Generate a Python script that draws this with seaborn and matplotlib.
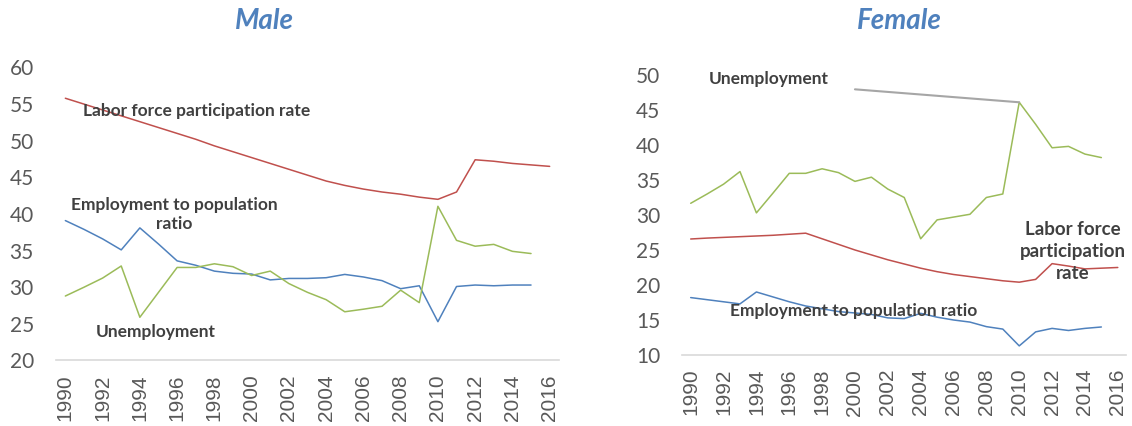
import numpy as np
import pandas as pd
import matplotlib
matplotlib.use('Agg')
import matplotlib.pyplot as plt
import seaborn as sns

# Data
years = list(range(1990, 2017))

male_lfpr = [55.8, 55.0, 54.2, 53.4, 52.6, 51.8, 51.0, 50.2, 49.3, 48.5, 47.7, 46.9, 46.1,
             45.3, 44.5, 43.9, 43.4, 43.0, 42.7, 42.3, 42.0, 43.0, 47.4, 47.2, 46.9, 46.7, 46.5]
male_emp = [39.1, 37.9, 36.6, 35.1, 38.1, 35.9, 33.6, 33.0, 32.2, 31.9, 31.8, 31.0, 31.2,
            31.2, 31.3, 31.75, 31.4, 30.9, 29.8, 30.2, 25.3, 30.1, 30.3, 30.2, 30.3, 30.3, np.nan]
male_unemp = [28.8, 30.0, 31.25, 32.9, 25.9, 29.3, 32.7, 32.7, 33.2, 32.8, 31.6, 32.2, 30.5,
              29.3, 28.3, 26.65, 27.0, 27.4, 29.6, 27.9, 41.05, 36.4, 35.6, 35.85, 34.9, 34.6, np.nan]

female_lfpr = [26.57, 26.7, 26.8, 26.9, 27.0, 27.1, 27.25, 27.4, 26.6, 25.8, 25.0, 24.3, 23.6,
               23.0, 22.4, 21.9, 21.5, 21.2, 20.9, 20.6, 20.4, 20.8, 23.05, 22.7, 22.3, 22.4, 22.5]
female_emp = [18.2, 17.9, 17.6, 17.3, 19.0, 18.3, 17.6, 17.0, 16.6, 16.2, 16.0, 15.8, 15.3,
              15.2, 15.95, 15.4, 15.0, 14.7, 14.05, 13.7, 11.3, 13.3, 13.8, 13.5, 13.8, 14.0, np.nan]
female_unemp = [31.67, 33.0, 34.4, 36.2, 30.3, 33.1, 35.95, 35.95, 36.6, 36.05, 34.8, 35.4, 33.7,
                32.5, 26.6, 29.3, 29.7, 30.1, 32.5, 33.0, 46.1, 42.95, 39.6, 39.8, 38.7, 38.2, np.nan]

series_names = ['Labor force participation rate', 'Employment to population ratio', 'Unemployment']
colors = {'Labor force participation rate': '#C0504D',
          'Employment to population ratio': '#4F81BD',
          'Unemployment': '#9BBB59'}


def to_long(lfpr, emp, unemp):
    df = pd.DataFrame({'Year': years, series_names[0]: lfpr,
                       series_names[1]: emp, series_names[2]: unemp})
    return df.melt(id_vars='Year', var_name='Series', value_name='Value').dropna()


sns.set_style('white')
plt.rcParams['font.family'] = ['Lato', 'DejaVu Sans']

fig = plt.figure(figsize=(11.32, 4.26), dpi=100)
ax1 = fig.add_axes([0.0495, 0.1538, 0.4443, 0.6878])
ax2 = fig.add_axes([0.6029, 0.1667, 0.3918, 0.6573])

label_kw = dict(fontsize=12.5, fontweight='bold', color='#404040', clip_on=False)
tick_color = '#595959'

for ax, df, ylim in [(ax1, to_long(male_lfpr, male_emp, male_unemp), (20, 60)),
                     (ax2, to_long(female_lfpr, female_emp, female_unemp), (10, 50))]:
    sns.lineplot(data=df, x='Year', y='Value', hue='Series', palette=colors,
                 linewidth=1.1, legend=False, ax=ax)
    ax.set_xlim(1989.5, 2016.5)
    ax.set_ylim(*ylim)
    ax.set_yticks(range(ylim[0], ylim[1] + 1, 5))
    ax.set_xticks(years[::2])
    ax.set_xticklabels([str(y) for y in years[::2]], rotation=90,
                       fontfamily='Liberation Sans', fontsize=15, color=tick_color)
    ax.tick_params(axis='y', labelsize=15, labelcolor=tick_color, length=0, pad=16)
    ax.tick_params(axis='x', length=0, pad=10)
    for side in ['left', 'right', 'top']:
        ax.spines[side].set_visible(False)
    ax.spines['bottom'].set_color('#D9D9D9')
    ax.spines['bottom'].set_linewidth(1.2)
    ax.set_xlabel('')
    ax.set_ylabel('')
    ax.grid(False)

# Male labels
ax1.text(1990.95, 54.0, 'Labor force participation rate', ha='left', va='center', **label_kw)
ax1.text(1995.83, 39.95, 'Employment to population\nratio', ha='center', va='center',
         linespacing=1.2, **label_kw)
ax1.text(1994.84, 23.95, 'Unemployment', ha='center', va='center', **label_kw)

# Female labels
ax2.text(1994.78, 49.4, 'Unemployment', ha='center', va='center', **label_kw)
ax2.annotate('', xy=(2010, female_unemp[20]), xytext=(2000, 47.95),
             arrowprops=dict(arrowstyle='-', color='#A6A6A6', lw=1.5,
                             shrinkA=0, shrinkB=0))
ax2.text(2013.26, 24.76, 'Labor force\nparticipation\nrate', ha='center', va='center',
         linespacing=1.35, fontsize=13.5, fontweight='bold', color='#404040', clip_on=False)
ax2.text(1999.94, 16.33, 'Employment to population ratio', ha='center', va='center', **label_kw)

# Titles
title_kw = dict(fontsize=20, fontweight='bold', fontstyle='italic', color='#4F81BD',
                ha='center', va='center')
fig.text(264 / 1132, 1 - 21 / 426, 'Male', **title_kw)
fig.text(899 / 1132, 1 - 21 / 426, 'Female', **title_kw)

fig.savefig('out.png', dpi=100)
